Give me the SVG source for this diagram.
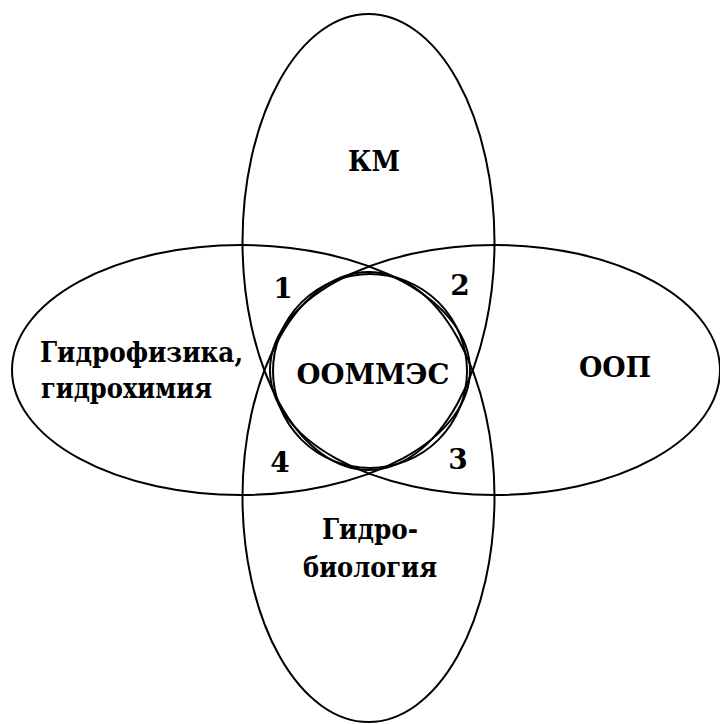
<svg xmlns="http://www.w3.org/2000/svg" width="720" height="724" viewBox="0 0 720 724">
<style>
.s{fill:none;stroke:#000;stroke-width:2}
text{font-family:'DejaVu Serif',serif;font-weight:700;font-size:28px;fill:#000}
.c{text-anchor:middle}
</style>
<rect width="720" height="724" fill="#fff"/>
<g id="km"><ellipse class="s" cx="368.5" cy="242" rx="126" ry="228"/><text class="c" x="374" y="171" textLength="52" lengthAdjust="spacingAndGlyphs">КМ</text></g>
<g id="gidrobio"><ellipse class="s" cx="368.5" cy="497" rx="126" ry="225"/><text class="c" x="370" y="539" textLength="96" lengthAdjust="spacingAndGlyphs">Гидро-</text><text class="c" x="370" y="577" textLength="134" lengthAdjust="spacingAndGlyphs">биология</text></g>
<g id="gidrofiz"><ellipse class="s" cx="241" cy="370" rx="229" ry="125"/><text x="40" y="362" textLength="203" lengthAdjust="spacingAndGlyphs">Гидрофизика,</text><text x="41" y="398" textLength="171" lengthAdjust="spacingAndGlyphs">гидрохимия</text></g>
<g id="oop"><ellipse class="s" cx="495" cy="370" rx="225" ry="125"/><text class="c" x="615" y="377" textLength="72" lengthAdjust="spacingAndGlyphs">ООП</text></g>
<g id="oommes"><circle class="s" cx="370" cy="371" r="97"/><text class="c" x="373" y="384" textLength="153" lengthAdjust="spacingAndGlyphs">ООММЭС</text></g>
<g id="labels">
<text class="c" x="283" y="298">1</text>
<text class="c" x="460" y="295">2</text>
<text class="c" x="458" y="469">3</text>
<text class="c" x="280" y="472">4</text>
</g>
</svg>
